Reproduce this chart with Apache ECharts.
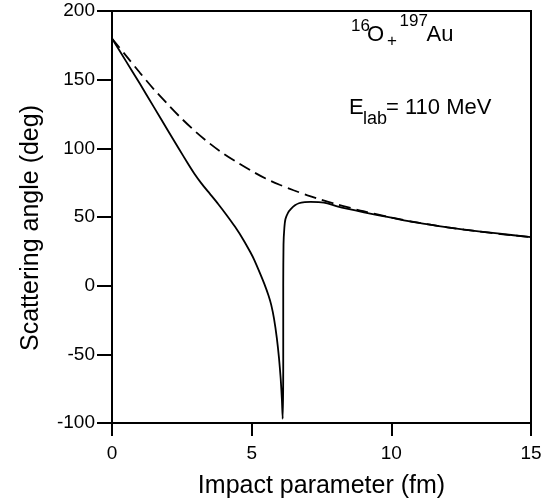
<!DOCTYPE html>
<html>
<head>
<meta charset="utf-8">
<script src="https://cdn.jsdelivr.net/npm/echarts@6/dist/echarts.min.js"></script>
<style>
  html, body { margin: 0; padding: 0; background: #fff; }
  #chart { width: 557px; height: 504px; }
</style>
</head>
<body>
<div id="chart"></div>
<script>
// impact parameter (fm) / scattering angle (deg)
var solidB = [0, 0.5, 1.0, 1.5, 2.0, 2.4, 2.7, 2.95, 3.2, 3.5, 3.8, 4.1, 4.4, 4.7, 4.95, 5.1, 5.3, 5.45, 5.6, 5.7, 5.8, 5.9, 5.98, 6.04, 6.08, 6.11,
              6.13, 6.13, 6.14, 6.17, 6.21, 6.3, 6.4, 6.55, 6.69, 6.9, 7.11, 7.4, 7.71, 8.06, 9.02, 10.0, 10.81, 11.7, 12.6, 13.8, 15];
var solidTheta = [180, 163.5, 147, 130, 113, 99.5, 89.5, 81.5, 74.5, 67, 59.5, 51.5, 43, 33.5, 24.5, 18.5, 9, 1.5, -7, -14, -24, -38, -53, -68, -82, -97,
                  -60, 0, 30, 42, 48.5, 53, 55.7, 58.5, 60, 60.8, 61, 60.8, 60, 57.7, 53.4, 49.5, 46.2, 43.4, 40.8, 38, 35.3];

// Rutherford (dashed)
var dashB = [0, 0.5, 1.0, 1.5, 2.0, 2.5, 3.0, 3.5, 4.0, 4.5, 5.0, 5.5, 6.0, 6.5, 7.0, 7.5, 8.0, 8.5, 9.0, 10, 11, 12, 13, 14, 15];
var dashTheta = [180, 167.5, 155, 143, 132, 121.5, 112, 103.5, 96, 89.5, 83.5, 78, 73.5, 69.5, 65.8, 62.5, 59.5, 56.8, 54.2, 49.6, 45.8, 42.5, 39.8, 37.4, 35.3];

var xTicks = [0, 5, 10, 15];
var yTicks = [-100, -50, 0, 50, 100, 150, 200];

var FONT = "'Liberation Sans', Arial, Helvetica, sans-serif";

function pairs(xs, ys) {
  return xs.map(function (x, i) { return [x, ys[i]]; });
}

var myChart = echarts.init(document.getElementById('chart'));
myChart.setOption({
  animation: false,
  grid: {
    left: 112, top: 11, right: 26, bottom: 80,
    show: true,
    borderColor: '#000',
    borderWidth: 2
  },
  xAxis: {
    type: 'value',
    min: xTicks[0], max: xTicks[xTicks.length - 1], interval: 5,
    name: 'Impact parameter (fm)',
    nameLocation: 'middle',
    nameGap: 51,
    nameTextStyle: { color: '#000', fontSize: 25, fontFamily: FONT },
    axisLine: { show: true, onZero: false, lineStyle: { color: '#000', width: 2 } },
    axisTick: { show: true, inside: false, length: 13, lineStyle: { color: '#000', width: 2 } },
    axisLabel: { color: '#000', fontSize: 19, fontFamily: FONT, margin: 21 },
    splitLine: { show: false }
  },
  yAxis: {
    type: 'value',
    min: yTicks[0], max: yTicks[yTicks.length - 1], interval: 50,
    axisLine: { show: true, onZero: false, lineStyle: { color: '#000', width: 2 } },
    axisTick: { show: true, inside: false, length: 15, lineStyle: { color: '#000', width: 2 } },
    axisLabel: { color: '#000', fontSize: 19, fontFamily: FONT, margin: 17 },
    splitLine: { show: false }
  },
  series: [
    {
      name: 'Rutherford',
      type: 'line',
      data: pairs(dashB, dashTheta),
      smooth: 0.3,
      showSymbol: false,
      lineStyle: { color: '#000', width: 1.8, type: [12, 6] }
    },
    {
      name: 'nuclear',
      type: 'line',
      data: pairs(solidB, solidTheta),
      smooth: 0.2,
      showSymbol: false,
      lineStyle: { color: '#000', width: 1.8 }
    }
  ],
  graphic: [
    // y axis title
    { type: 'text', x: 31, y: 228, rotation: Math.PI / 2,
      style: { text: 'Scattering angle (deg)', fontSize: 25, fontFamily: FONT, fill: '#000', align: 'center', verticalAlign: 'middle' } },
    // reaction label
    { type: 'text', style: { text: '16', x: 351, y: 26.5, fontSize: 17, fontFamily: FONT, fill: '#000', verticalAlign: 'middle' } },
    { type: 'text', style: { text: 'O', x: 367, y: 35, fontSize: 22, fontFamily: FONT, fill: '#000', verticalAlign: 'middle' } },
    { type: 'text', style: { text: '+', x: 387, y: 41, fontSize: 17, fontFamily: FONT, fill: '#000', verticalAlign: 'middle' } },
    { type: 'text', style: { text: '197', x: 399.5, y: 21.5, fontSize: 17, fontFamily: FONT, fill: '#000', verticalAlign: 'middle' } },
    { type: 'text', style: { text: 'Au', x: 426.5, y: 35, fontSize: 22, fontFamily: FONT, fill: '#000', verticalAlign: 'middle' } },
    { type: 'text', style: { text: 'E', x: 349, y: 107.5, fontSize: 22, fontFamily: FONT, fill: '#000', verticalAlign: 'middle' } },
    { type: 'text', style: { text: 'lab', x: 363, y: 119.5, fontSize: 18, fontFamily: FONT, fill: '#000', verticalAlign: 'middle' } },
    { type: 'text', style: { text: '= 110 MeV', x: 386, y: 107.5, fontSize: 22, fontFamily: FONT, fill: '#000', verticalAlign: 'middle' } }
  ]
});
</script>
</body>
</html>
